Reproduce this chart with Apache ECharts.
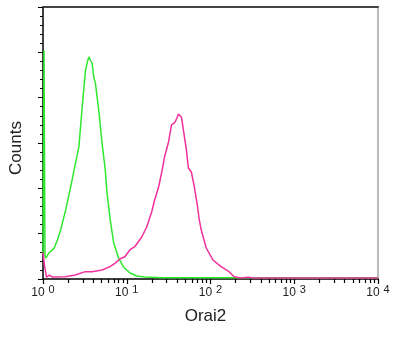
<!DOCTYPE html>
<html>
<head>
<meta charset="utf-8">
<script src="https://cdn.jsdelivr.net/npm/echarts@6/dist/echarts.min.js"></script>
<style>
html,body{margin:0;padding:0;background:#fff;}
#c{width:393px;height:341px;}
</style>
</head>
<body>
<div id="c"></div>
<script>
// Green histogram (control)
const greenX = [1.0, 1.028, 1.056, 1.079, 1.184, 1.358, 1.485, 1.625, 1.863, 2.135, 2.447, 2.685, 2.938, 3.215, 3.40, 3.527, 3.70, 3.859, 4.05, 4.223, 4.634, 5.070, 5.546, 5.810, 6.358, 6.976, 7.994, 9.166, 10.97, 13.17, 16.39, 26.06, 231, 10000];
const greenY = [28, 252, 26, 23, 29, 34, 43, 54, 76, 101, 128, 146, 190, 230, 240, 245, 241, 238, 222, 216, 186, 150, 120, 95, 65, 40, 23, 13, 6.6, 3.3, 2.2, 1.5, 1.5, 1.5];
// Magenta histogram (Orai2)
const magentaX = [1.0, 1.042, 1.100, 1.194, 1.296, 1.848, 2.427, 3.189, 3.859, 5.070, 6.306, 7.228, 8.284, 9.495, 10.88, 12.47, 15.10, 17.31, 19.84, 21.53, 24.01, 26.06, 28.28, 31.53, 34.22, 37.15, 39.77, 41.43, 44.97, 47.49, 51.54, 54.43, 59.07, 64.12, 69.57, 73.47, 77.59, 88.94, 106.8, 133.9, 166.6, 190.9, 231.1, 279.7, 329.5, 398.7, 10000];
const magentaY = [29, 15, 2.2, 4.4, 2.2, 2.5, 4.4, 8.1, 8.1, 9.9, 13.6, 17.3, 22.1, 24.6, 32, 35.6, 46.3, 57.4, 73.9, 87.1, 101.5, 116.9, 134.6, 151.1, 169.9, 172.1, 177.6, 182, 178.7, 164.3, 142.3, 122.4, 118, 101.5, 81.6, 65.1, 54, 34.2, 21, 13.6, 8.1, 2.5, 1, 2, 1, 1, 1];
// Axis ticks
const xMajorTicks = [1, 10, 100, 1000, 10000];
const xMinorMultipliers = [2, 3, 4, 5, 6, 7, 8, 9];
const yMax = 300;
const yInterval = 50;

const minorLogPositions = [];
xMajorTicks.slice(0, -1).forEach(function (d) {
  xMinorMultipliers.forEach(function (m) { minorLogPositions.push(Math.log10(d * m)); });
});

const chart = echarts.init(document.getElementById('c'), null, {renderer: 'canvas'});
const font = '"Liberation Sans", Arial, sans-serif';
chart.setOption({
  animation: false,
  backgroundColor: '#fff',
  grid: {left: 40, right: 15, top: 7, bottom: 62, containLabel: false},
  xAxis: [
    {
      type: 'log', logBase: 10, min: 1, max: 10000,
      position: 'bottom',
      axisLine: {show: true, onZero: false, lineStyle: {color: '#000', width: 1.5}},
      axisTick: {show: true, length: 5, lineStyle: {color: '#000', width: 1.2}},
      splitLine: {show: false},
      minorSplitLine: {show: false},
      axisLabel: {
        margin: 5,
        fontFamily: font,
        color: '#222',
        formatter: function (v) {
          const e = Math.round(Math.log10(v));
          return '{b|10}{s|' + e + '}';
        },
        rich: {
          b: {fontSize: 12, fontFamily: font, color: '#222'},
          s: {fontSize: 11, fontFamily: font, color: '#222', padding: [0, 0, 7, 4]}
        }
      },
      name: 'Orai2',
      nameLocation: 'middle',
      nameGap: 29,
      nameTextStyle: {fontSize: 17, fontFamily: font, color: '#222', padding: [0, 10, 0, 0]}
    },
    {
      type: 'value', min: 0, max: 4,
      position: 'bottom',
      axisLine: {show: true, onZero: false, lineStyle: {color: 'rgba(0,0,0,0)', width: 1}},
      axisLabel: {show: false},
      splitLine: {show: false},
      axisTick: {show: true, length: 4, customValues: minorLogPositions, lineStyle: {color: '#000', width: 1.2}}
    },
    {
      type: 'value', min: 0, max: 1,
      position: 'top',
      axisLine: {show: true, onZero: false, lineStyle: {color: '#444', width: 2}},
      axisTick: {show: false},
      axisLabel: {show: false},
      splitLine: {show: false}
    }
  ],
  yAxis: [
    {
      type: 'value', min: 0, max: yMax, interval: yInterval,
      position: 'left',
      axisLine: {show: true, onZero: false, lineStyle: {color: '#000', width: 1.5}},
      axisTick: {show: true, length: 5, lineStyle: {color: '#000', width: 1}},
      minorTick: {show: true, splitNumber: 5, length: 3, lineStyle: {color: '#000', width: 1}},
      axisLabel: {show: false},
      splitLine: {show: false},
      name: 'Counts',
      nameLocation: 'middle',
      nameGap: 18,
      nameTextStyle: {fontSize: 17, fontFamily: font, color: '#222', padding: [0, 10, 0, 0]}
    },
    {
      type: 'value', min: 0, max: yMax,
      position: 'right',
      axisLine: {show: true, onZero: false, lineStyle: {color: '#bbb', width: 2}},
      axisTick: {show: false},
      axisLabel: {show: false},
      splitLine: {show: false}
    }
  ],
  series: [
    {
      type: 'line', xAxisIndex: 0, yAxisIndex: 0,
      data: greenX.map(function (x, i) { return [x, greenY[i]]; }),
      showSymbol: false, symbol: 'none',
      lineStyle: {color: '#2ee82e', width: 1.5},
      z: 3
    },
    {
      type: 'line', xAxisIndex: 0, yAxisIndex: 0,
      data: magentaX.map(function (x, i) { return [x, magentaY[i]]; }),
      showSymbol: false, symbol: 'none',
      lineStyle: {color: '#f0309c', width: 1.5},
      z: 4
    }
  ]
});
</script>
</body>
</html>
